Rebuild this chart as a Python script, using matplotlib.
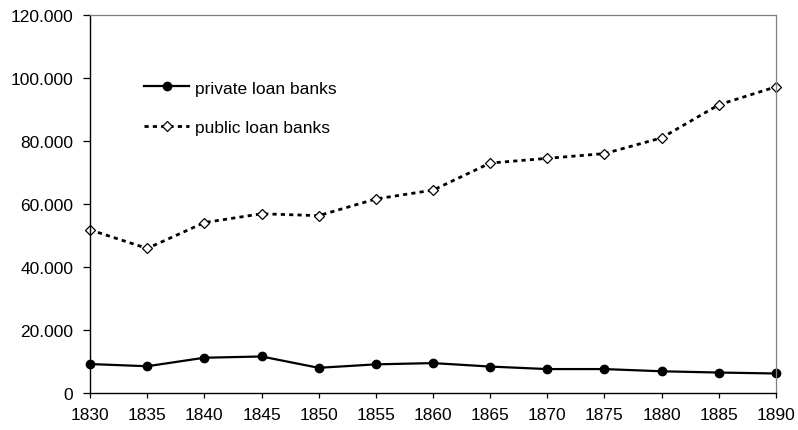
import matplotlib
matplotlib.use('Agg')
import matplotlib.pyplot as plt
from matplotlib.ticker import FuncFormatter

years = [1830, 1835, 1840, 1845, 1850, 1855, 1860, 1865, 1870, 1875, 1880, 1885, 1890]
private_banks = [9.2, 8.5, 11.2, 11.6, 8.0, 9.1, 9.5, 8.4, 7.6, 7.6, 6.9, 6.5, 6.2]
public_banks = [51.8, 45.9, 54.1, 56.9, 56.3, 61.6, 64.4, 73.0, 74.5, 76.0, 81.0, 91.5, 97.2]

plt.rcParams['font.family'] = ['Liberation Sans', 'DejaVu Sans']

fig = plt.figure(figsize=(7.98, 4.31), dpi=100)
ax = fig.add_axes([0.1128, 0.0858, 0.8596, 0.8771])

ax.plot(years, private_banks, color='black', lw=1.6, marker='o', markersize=6,
        label='private loan banks')
ax.plot(years, public_banks, color='black', lw=2, linestyle=(0, (1.5, 1.5)),
        marker='D', markersize=5.5, markerfacecolor='white', markeredgewidth=0.9,
        label='public loan banks')

ax.set_xlim(1830, 1890)
ax.set_ylim(0, 120)
ax.set_xticks(years)
ax.set_yticks(range(0, 121, 20))


def fmt(v, pos):
    if v == 0:
        return '0'
    return '%d.000' % v


ax.yaxis.set_major_formatter(FuncFormatter(fmt))
ax.tick_params(axis='both', labelsize=12.5, direction='out', width=0.9, colors='black')
ax.tick_params(axis='x', length=3.8, pad=6.5)
ax.tick_params(axis='y', length=5, pad=7)

for s in ['top', 'right']:
    ax.spines[s].set_color('#808080')
    ax.spines[s].set_linewidth(0.9)
for s in ['left', 'bottom']:
    ax.spines[s].set_color('black')
    ax.spines[s].set_linewidth(1.0)

for m in ax.lines:
    m.set_clip_on(False)

ax.legend(loc='upper left', bbox_to_anchor=(0.079, 0.827), frameon=False, fontsize=12.5,
          handlelength=2.6, handletextpad=0.35, labelspacing=1.4, borderaxespad=0,
          borderpad=0)

fig.savefig('out.png', dpi=100)
